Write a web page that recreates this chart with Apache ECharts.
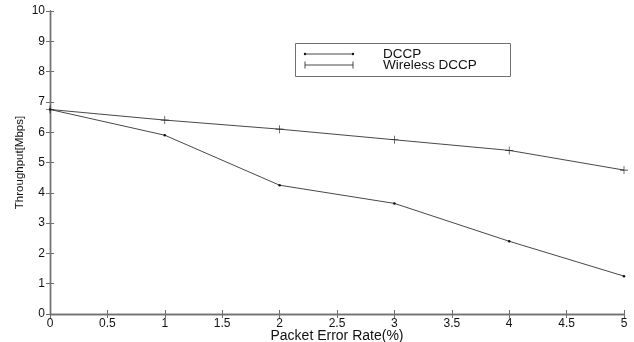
<!DOCTYPE html>
<html>
<head>
<meta charset="utf-8">
<script src="https://cdn.jsdelivr.net/npm/echarts@6/dist/echarts.min.js"></script>
<style>
  html, body { margin: 0; padding: 0; background: #fff; }
  #chart { width: 634px; height: 342px; }
</style>
</head>
<body>
<div id="chart"></div>
<script>
// Packet error rate (%) on the x axis
const errorRates = [0, 1, 2, 3, 4, 5];
// Throughput in Mbps for each protocol
const dccpThroughput = [6.75, 5.9, 4.25, 3.65, 2.4, 1.25];
const wirelessThroughput = [6.75, 6.4, 6.1, 5.75, 5.4, 4.75];

const seriesNames = ['DCCP', 'Wireless DCCP'];
const xTitle = 'Packet Error Rate(%)';
const yTitle = 'Throughput[Mbps]';

const FONT = '"Liberation Sans", Arial, sans-serif';
const AXIS_COLOR = '#707070';
const LINE_COLOR = '#333';
const PLUS = 'path://M0,4.6H10V5.4H0Z M4.6,0H5.4V10H4.6Z';

const chart = echarts.init(document.getElementById('chart'), null, { renderer: 'canvas' });

const tickStyle = { show: true, inside: true, length: 4, lineStyle: { color: AXIS_COLOR, width: 1 } };
const axisLine = { show: true, lineStyle: { color: AXIS_COLOR, width: 1.4 } };
const labelStyle = { color: '#111', fontFamily: FONT, fontSize: 12 };

function pairs(ys) { return errorRates.map((x, i) => [x, ys[i]]); }

chart.setOption({
  animation: false,
  backgroundColor: '#fff',
  grid: { left: 50, right: 10, top: 11, bottom: 28, containLabel: false, outerBoundsMode: 'none' },
  xAxis: [
    {
      type: 'value', min: 0, max: 5, interval: 0.5, position: 'bottom',
      axisLine: axisLine, axisTick: tickStyle,
      axisLabel: Object.assign({ margin: 4 }, labelStyle),
      splitLine: { show: false },
      name: xTitle, nameLocation: 'middle', nameGap: 15, nameMoveOverlap: false,
      nameTextStyle: { color: '#111', fontFamily: FONT, fontSize: 14 }
    },
    {
      type: 'value', min: 0, max: 5, interval: 0.5, position: 'top',
      axisLine: axisLine, axisTick: tickStyle,
      axisLabel: { show: false }, splitLine: { show: false }
    }
  ],
  yAxis: [
    {
      type: 'value', min: 0, max: 10, interval: 1, position: 'left',
      axisLine: axisLine, axisTick: tickStyle,
      axisLabel: Object.assign({ margin: 5 }, labelStyle),
      splitLine: { show: false },
      name: yTitle, nameLocation: 'middle', nameGap: 24, nameRotate: 90, nameMoveOverlap: false,
      nameTextStyle: { color: '#111', fontFamily: FONT, fontSize: 11.5 }
    },
    {
      type: 'value', min: 0, max: 10, interval: 1, position: 'right',
      axisLine: axisLine, axisTick: tickStyle,
      axisLabel: { show: false }, splitLine: { show: false }
    }
  ],
  series: [
    {
      name: seriesNames[0], type: 'line', data: pairs(dccpThroughput),
      xAxisIndex: 0, yAxisIndex: 0,
      symbol: 'circle', symbolSize: 2.5, showSymbol: true,
      lineStyle: { color: LINE_COLOR, width: 0.9 },
      itemStyle: { color: '#111' }
    },
    {
      name: seriesNames[1], type: 'line', data: pairs(wirelessThroughput),
      xAxisIndex: 0, yAxisIndex: 0,
      symbol: PLUS, symbolSize: 8, showSymbol: true,
      lineStyle: { color: LINE_COLOR, width: 0.9 },
      itemStyle: { color: '#222' }
    }
  ],
  graphic: [
    // legend box
    { type: 'rect', shape: { x: 295.5, y: 43.5, width: 215, height: 33 },
      style: { fill: '#fff', stroke: '#707070', lineWidth: 1 }, z: 10 },
    { type: 'line', shape: { x1: 305, y1: 54, x2: 353, y2: 54 },
      style: { stroke: LINE_COLOR, lineWidth: 0.9 }, z: 11 },
    { type: 'circle', shape: { cx: 305, cy: 54, r: 1.2 }, style: { fill: '#111' }, z: 11 },
    { type: 'circle', shape: { cx: 353, cy: 54, r: 1.2 }, style: { fill: '#111' }, z: 11 },
    { type: 'line', shape: { x1: 305, y1: 65, x2: 353, y2: 65 },
      style: { stroke: LINE_COLOR, lineWidth: 0.9 }, z: 11 },
    { type: 'line', shape: { x1: 305, y1: 61.5, x2: 305, y2: 68.5 },
      style: { stroke: LINE_COLOR, lineWidth: 0.9 }, z: 11 },
    { type: 'line', shape: { x1: 353, y1: 61.5, x2: 353, y2: 68.5 },
      style: { stroke: LINE_COLOR, lineWidth: 0.9 }, z: 11 },
    { type: 'text', x: 383, y: 54, z: 11,
      style: { text: seriesNames[0], fill: '#111', font: '13.5px ' + FONT, verticalAlign: 'middle' } },
    { type: 'text', x: 383, y: 65.5, z: 11,
      style: { text: seriesNames[1], fill: '#111', font: '13.5px ' + FONT, verticalAlign: 'middle' } }
  ]
});
</script>
</body>
</html>
